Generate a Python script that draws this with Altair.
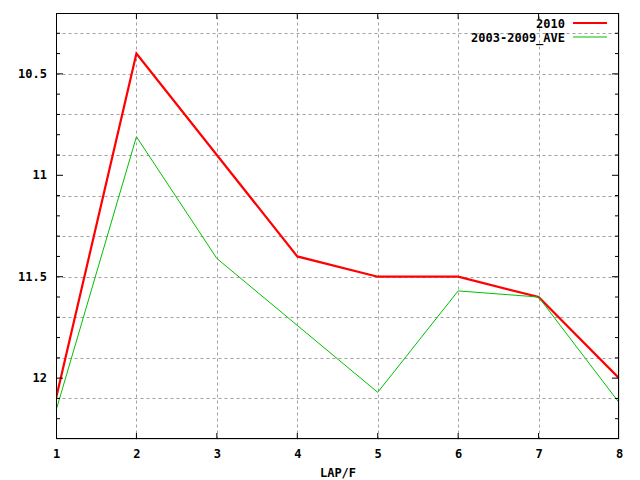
import altair as alt
import pandas as pd

laps = [1, 2, 3, 4, 5, 6, 7, 8]
series_2010 = [12.1, 10.4, 10.9, 11.4, 11.5, 11.5, 11.6, 12.0]
series_ave = [12.16, 10.81, 11.41, 11.74, 12.07, 11.57, 11.6, 12.12]
series_names = ["2010", "2003-2009_AVE"]
series_colors = ["#ff0000", "#00c000"]
y_minor = [round(10.3 + 0.1 * i, 1) for i in range(20)]
y_major = [10.5, 11.0, 11.5, 12.0]
y_major_labels = ["10.5", "11", "11.5", "12"]

W, H = 563, 426
FONT = "DejaVu Sans Mono"

rows = []
for name, vals in zip(series_names, [series_2010, series_ave]):
    for x, v in zip(laps, vals):
        rows.append({"lap": x, "val": v, "series": name})
df = pd.DataFrame(rows)

xscale = alt.Scale(domain=[1, 8], nice=False, zero=False)
yscale = alt.Scale(domain=[10.2, 12.3], nice=False, zero=False, reverse=True)

xaxis = alt.Axis(values=laps, grid=True, gridDash=[3, 3], gridColor="#a0a0a0",
                 gridOpacity={"condition": {"test": "datum.value == 1 || datum.value == 8", "value": 0}, "value": 1},
                 tickSize=0, domain=False, labelFont=FONT, labelFontSize=12, labelFontWeight="bold",
                 labelColor="black", labelPadding=9, labelFlush=False, labelOverlap=False,
                 title="LAP/F", titleFont=FONT, titleFontSize=12,
                 titleFontWeight="bold", titleColor="black", titlePadding=8, format="d")
yaxis = alt.Axis(values=y_minor, grid=True, gridDash=[3, 3], gridColor="#a0a0a0", tickSize=0, domain=False,
                 labels=False, title=None)

lines = alt.Chart(df).mark_line(clip=True).encode(
    x=alt.X("lap:Q", scale=xscale, axis=xaxis),
    y=alt.Y("val:Q", scale=yscale, axis=yaxis),
    color=alt.Color("series:N", scale=alt.Scale(domain=series_names, range=series_colors), legend=None),
    strokeWidth=alt.StrokeWidth("series:N", scale=alt.Scale(domain=series_names, range=[2.2, 1]), legend=None),
    order=alt.Order("lap:Q"),
)

ylab_df = pd.DataFrame({"v": y_major, "lab": y_major_labels})
ylabels = alt.Chart(ylab_df).mark_text(
    align="right", baseline="middle", font=FONT, fontSize=12, fontWeight="bold", color="black", clip=False
).encode(y=alt.Y("v:Q", scale=yscale), x=alt.value(-9), text="lab:N")

tick_df = pd.DataFrame({"v": y_minor, "len": [6 if any(abs(v - m) < 1e-6 for m in y_major) else 3 for v in y_minor]})
left_minor = alt.Chart(tick_df[tick_df.len == 3]).mark_rule(color="black", strokeWidth=1).encode(
    y=alt.Y("v:Q", scale=yscale), x=alt.value(0), x2=alt.value(4))
left_major = alt.Chart(tick_df[tick_df.len == 6]).mark_rule(color="black", strokeWidth=1).encode(
    y=alt.Y("v:Q", scale=yscale), x=alt.value(0), x2=alt.value(7))
right_minor = alt.Chart(tick_df[tick_df.len == 3]).mark_rule(color="black", strokeWidth=1).encode(
    y=alt.Y("v:Q", scale=yscale), x=alt.value(W - 4), x2=alt.value(W))
right_major = alt.Chart(tick_df[tick_df.len == 6]).mark_rule(color="black", strokeWidth=1).encode(
    y=alt.Y("v:Q", scale=yscale), x=alt.value(W - 7), x2=alt.value(W))
xt_df = pd.DataFrame({"x": laps[1:-1]})
bottom_ticks = alt.Chart(xt_df).mark_rule(color="black", strokeWidth=1).encode(
    x=alt.X("x:Q", scale=xscale), y=alt.value(H - 6), y2=alt.value(H))
top_ticks = alt.Chart(xt_df).mark_rule(color="black", strokeWidth=1).encode(
    x=alt.X("x:Q", scale=xscale), y=alt.value(0), y2=alt.value(6))

one = pd.DataFrame({"k": [0]})
border = [
    alt.Chart(one).mark_rule(color="black", strokeWidth=1).encode(x=alt.value(0.5), y=alt.value(0), y2=alt.value(H)),
    alt.Chart(one).mark_rule(color="black", strokeWidth=1).encode(x=alt.value(W - 0.5), y=alt.value(0), y2=alt.value(H)),
    alt.Chart(one).mark_rule(color="black", strokeWidth=1).encode(y=alt.value(0.5), x=alt.value(0), x2=alt.value(W)),
    alt.Chart(one).mark_rule(color="black", strokeWidth=1).encode(y=alt.value(H - 0.5), x=alt.value(0), x2=alt.value(W)),
]

legend_layers = []
for i, (name, col) in enumerate(zip(series_names, series_colors)):
    ly = 10 + 14 * i
    txt = alt.Chart(pd.DataFrame({"t": [name]})).mark_text(
        align="right", baseline="middle", font=FONT, fontSize=12, fontWeight="bold", color="black"
    ).encode(text="t:N", x=alt.value(509), y=alt.value(ly + 1))
    ln = alt.Chart(pd.DataFrame({"t": [name]})).mark_rule(
        color=col, strokeWidth=2.2 if i == 0 else 1
    ).encode(x=alt.value(517), x2=alt.value(551), y=alt.value(ly))
    legend_layers += [txt, ln]

chart = alt.layer(
    lines, ylabels, left_minor, left_major, right_minor, right_major, bottom_ticks, top_ticks,
    *border, *legend_layers
).properties(
    width=W, height=H,
    autosize=alt.AutoSizeParams(type="none"),
    padding={"left": 48, "top": 5, "right": 13, "bottom": 40},
).configure_view(stroke=None).configure(background="white")

chart.save("out.html", embed_options={"renderer": "svg", "actions": False})
